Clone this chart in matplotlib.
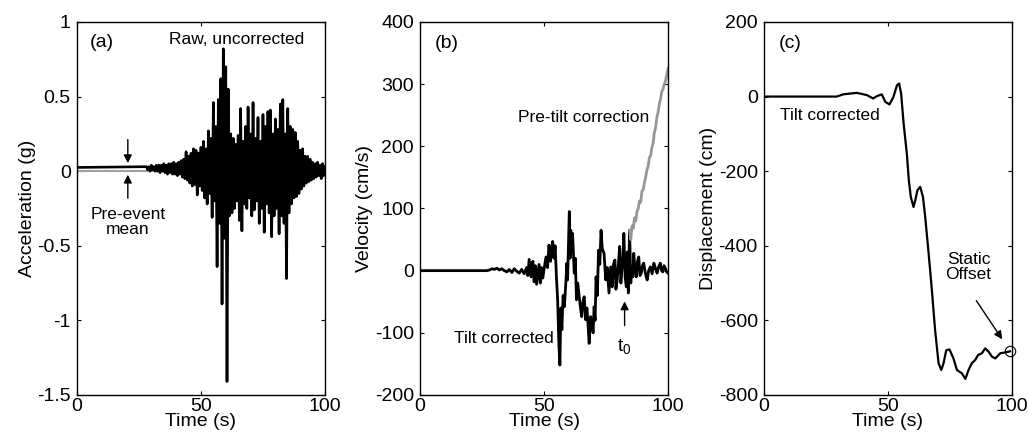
# -*- coding:utf-8 -*-
# 三联图: 加速度 / 速度 / 位移
import matplotlib
matplotlib.use("Agg")
import matplotlib.pyplot as plt
import numpy as np

plt.rcParams['font.family'] = ['Liberation Sans', 'DejaVu Sans']
plt.rcParams['axes.unicode_minus'] = False
plt.rcParams['mathtext.fontset'] = 'custom'
plt.rcParams['mathtext.rm'] = 'Liberation Sans'

# ---------------- data ----------------
# (a) raw acceleration, 0.5 s samples after 28 s
t_acc = np.concatenate([[0.0], np.arange(28, 100.01, 0.5)])
a_raw = [0.025,
         0.03, 0.01, 0.03, 0.00, 0.04, 0.01, 0.03, 0.00, 0.04, 0.00,
         0.04, -0.01, 0.04, 0.00, 0.05, -0.01, 0.04, -0.02, 0.05, -0.01,
         0.05, -0.02, 0.06, -0.02, 0.05, -0.03, 0.06, -0.02, 0.07, -0.04,
         0.08, -0.05, 0.13, -0.06, 0.10, -0.08, 0.12, -0.10, 0.15, -0.09,
         0.14, -0.16, 0.12, -0.10, 0.16, -0.13, 0.20, -0.18, 0.15, -0.22,
         0.27, -0.15, 0.22, -0.31, 0.46, -0.20, 0.30, -0.64, 0.48, -0.35,
         0.62, -0.89, 0.82, -0.45, 0.70, -1.41, 0.55, -0.30, 0.25, -0.28,
         0.22, -0.25, 0.18, -0.20, 0.24, -0.33, 0.42, -0.40, 0.20, -0.22,
         0.30, -0.25, 0.43, -0.18, 0.25, -0.30, 0.46, -0.26, 0.22, -0.20,
         0.36, -0.35, 0.20, -0.25, 0.38, -0.41, 0.30, -0.22, 0.40, -0.28,
         0.41, -0.44, 0.25, -0.30, 0.35, -0.25, 0.28, -0.42, 0.45, -0.30,
         0.48, -0.35, 0.25, -0.72, 0.42, -0.28, 0.30, -0.22, 0.28, -0.18,
         0.26, -0.17, 0.20, -0.15, 0.14, -0.12, 0.15, -0.10, 0.10, -0.08,
         0.10, -0.07, 0.08, -0.06, 0.06, -0.05, 0.05, -0.04, 0.06, -0.03,
         0.04, -0.05, 0.05, -0.03, 0.03]
t_mean = [0, 35]
a_mean = [0.0, 0.0]

# (b) velocity
t_vel = [0, 27, 28, 29, 30, 31, 32, 33, 34, 35,
         36, 37, 38, 39, 40, 41, 42, 43, 43.5, 44,
         44.8, 45.5, 46, 46.5, 47, 48, 48.5, 49, 49.5, 50,
         50.8, 51.4, 52, 52.6, 53, 53.5, 54, 54.5, 55, 55.5,
         56, 56.4, 56.8, 57.2, 57.7, 58.2, 58.8, 59.2, 59.5, 59.8,
         60.2, 60.5, 60.8, 61.2, 61.5, 62.2, 62.6, 63.1, 63.6, 64.2,
         64.7, 65.2, 65.7, 66.2, 66.8, 67.3, 67.8, 68.2, 68.8, 69.3,
         69.8, 70.2, 70.6, 71, 71.5, 72, 72.5, 73, 73.5, 74.2,
         74.9, 75.5, 76.2, 76.9, 77.5, 78, 78.6, 79, 79.5, 80,
         80.5, 81, 81.3, 81.8, 82.2, 82.7, 83.2, 83.6, 84, 84.5,
         85, 85.3, 85.8, 86.2, 86.7, 87.2, 87.7, 88.2, 88.7, 89.2,
         89.7, 90.2, 90.9, 91.6, 92.2, 92.9, 93.6, 94.3, 95, 95.6,
         96.2, 96.9, 97.4, 97.9, 98.4, 98.9, 99.5, 100]
v_tilt = [0, 0, 1, 3, 2, 4, 1, 3, 0, -2,
          2, -3, 3, -1, -4, 2, -5, 5, -8, 18,
          -10, 15, -18, 8, -22, 10, -20, 5, -12, 2,
          22, 5, 41, 15, 35, 47, 20, 40, -10, -47,
          -120, -152, -60, -95, -40, -58, -20, 12, -15, 30,
          95, 20, 65, 35, 60, -4, 20, -47, -20, -42,
          -60, -74, -50, -42, -79, -60, -90, -117, -74, -85,
          -100, -58, -80, -10, -40, 33, 10, 65, 35, 28,
          -15, 5, -36, 6, -26, 10, 17, -30, -15, 10,
          39, -20, -4, 20, 60, -10, -26, 30, -36, 65,
          -20, 6, -10, 28, 0, -10, 15, 22, -8, -4,
          8, 12, -5, -15, 0, 6, -5, 12, 3, -4,
          6, 12, 0, -2, 8, 4, -2, -4]
t_pre = [84.5, 85, 85.5, 86, 86.5, 87, 87.5, 88, 88.5, 89,
         89.5, 90, 90.5, 91, 91.5, 92, 92.5, 93, 93.5, 94,
         94.5, 95, 95.5, 96, 96.5, 97, 97.5, 98, 98.5, 99,
         99.5, 100]
v_pre = [65, 50, 72, 68, 85, 80, 95, 100, 112, 110,
         128, 130, 142, 150, 162, 168, 182, 185, 198, 205,
         222, 230, 246, 255, 268, 276, 288, 292, 300, 305,
         315, 325]

# (c) displacement
t_dis = [0, 29.3, 32, 37.4, 41.5, 44, 45.5, 47.5, 48.9, 50.6,
         52.2, 53.6, 54.5, 55.3, 56.3, 57.6, 58.4, 59.2, 60.3, 61,
         61.9, 63, 64.1, 65, 66.4, 67.7, 69, 70.4, 71.5, 72.4,
         73.5, 74.8, 76.4, 77.8, 79.8, 81.2, 82.5, 83.8, 85.2, 86.3,
         87.9, 89.2, 90.6, 91.9, 93.3, 95.3, 97.3, 99.2]
d_tilt = [0, 0, 6, 10, 4, -5, 1, 6, -14, -21,
          -1, 30, 35, 8, -72, -153, -224, -269, -296, -278,
          -251, -242, -269, -322, -421, -519, -626, -715, -733, -715,
          -680, -678, -702, -733, -742, -757, -733, -715, -706, -693,
          -688, -675, -684, -697, -702, -688, -686, -683]

xticks = [0, 50, 100]
yt_a = [-1.5, -1, -0.5, 0, 0.5, 1]
yl_a = ['-1.5', '-1', '-0.5', '0', '0.5', '1']
yt_b = [-200, -100, 0, 100, 200, 300, 400]
yt_c = [-800, -600, -400, -200, 0, 200]

FS = 14      # 坐标轴
FT = 12.5    # 注释
fig = plt.figure(figsize=(10.28, 4.43), dpi=100)
w, h, bot = 0.2412, 0.842, 0.1084
axa = fig.add_axes([0.0749, bot, w, h])
axb = fig.add_axes([0.4086, bot, w, h])
axc = fig.add_axes([0.7432, bot, w, h])

for ax in (axa, axb, axc):
    ax.set_xlim(0, 100)
    ax.set_xticks(xticks)
    ax.tick_params(direction='in', top=True, right=True, length=3, width=0.8,
                   labelsize=FS)
    ax.tick_params(axis='x', pad=2)
    ax.tick_params(axis='y', pad=4.5)
    ax.set_xlabel('Time (s)', fontsize=FS, labelpad=-1)
    for s in ax.spines.values():
        s.set_linewidth(1.0)

# (a)
axa.plot(t_mean, a_mean, color='#a0a0a0', lw=1.5)
axa.plot(t_acc, a_raw, color='k', lw=1.9)
axa.set_ylim(-1.5, 1)
axa.set_yticks(yt_a)
axa.set_yticklabels(yl_a)
axa.set_ylabel('Acceleration (g)', fontsize=FS, labelpad=1)
axa.text(5, 0.86, '(a)', fontsize=FS, va='center')
axa.text(64.5, 0.88, 'Raw, uncorrected', fontsize=FT, ha='center', va='center')
axa.annotate('', xy=(20.5, 0.035), xytext=(20.5, 0.23),
             arrowprops=dict(arrowstyle='-|>', color='k', lw=1, mutation_scale=12))
axa.annotate('', xy=(20.5, -0.005), xytext=(20.5, -0.2),
             arrowprops=dict(arrowstyle='-|>', color='k', lw=1, mutation_scale=12))
axa.text(20.5, -0.34, 'Pre-event\nmean', fontsize=FT, ha='center', va='center',
         linespacing=1.0)

# (b)
axb.plot(t_vel, v_tilt, color='k', lw=2)
axb.plot(t_pre, v_pre, color='#969696', lw=2)
axb.set_ylim(-200, 400)
axb.set_yticks(yt_b)
axb.set_ylabel('Velocity (cm/s)', fontsize=FS, labelpad=1)
axb.text(6, 365, '(b)', fontsize=FS, va='center')
axb.text(66, 247, 'Pre-tilt correction', fontsize=FT, ha='center', va='center')
axb.text(34, -109, 'Tilt corrected', fontsize=FT, ha='center', va='center')
axb.annotate('', xy=(82.5, -45), xytext=(82.5, -93),
             arrowprops=dict(arrowstyle='-|>', color='k', lw=1, mutation_scale=12))
axb.text(82.5, -122, r'$\mathregular{t_0}$', fontsize=FS, ha='center', va='center')

# (c)
axc.plot(t_dis, d_tilt, color='k', lw=1.6)
axc.plot([t_dis[-1]], [d_tilt[-1]], 'o', mfc='none', mec='k', ms=7.5, mew=0.8,
         clip_on=False)
axc.set_ylim(-800, 200)
axc.set_yticks(yt_c)
axc.set_ylabel('Displacement (cm)', fontsize=FS, labelpad=1)
axc.text(6, 142, '(c)', fontsize=FS, va='center')
axc.text(26.6, -50, 'Tilt corrected', fontsize=FT, ha='center', va='center')
axc.text(82.5, -456, 'Static\nOffset', fontsize=FT, ha='center', va='center',
         linespacing=1.0)
axc.annotate('', xy=(96.7, -657), xytext=(85, -541),
             arrowprops=dict(arrowstyle='-|>', color='k', lw=1, mutation_scale=12))

fig.savefig('out.png', dpi=100)
